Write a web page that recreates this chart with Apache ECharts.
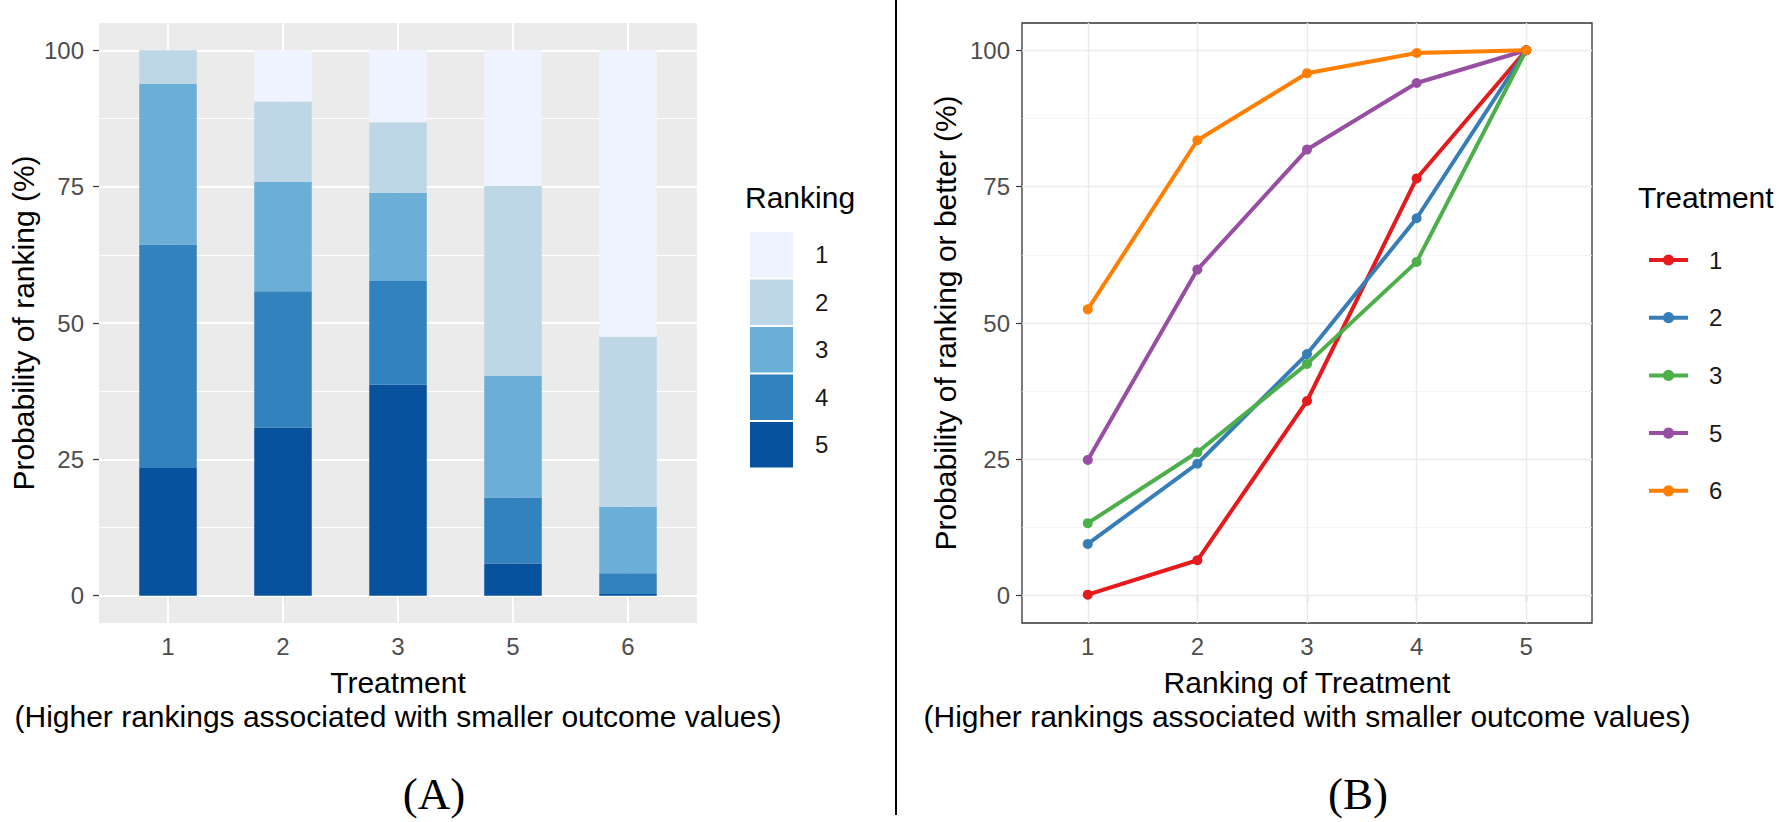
<!DOCTYPE html>
<html>
<head>
<meta charset="utf-8">
<script src="https://cdn.jsdelivr.net/npm/echarts@6/dist/echarts.min.js"></script>
<style>
html,body{margin:0;padding:0;background:#fff;}
#chart{width:1784px;height:822px;}
</style>
</head>
<body>
<div id="chart"></div>
<script>
var treatments = ['1', '2', '3', '5', '6'];
var rankings = ['1', '2', '3', '4', '5'];
var rankColors = ['#EFF3FF', '#BDD7E7', '#6BAED6', '#3182BD', '#08519C'];

// panel A : probability (%) of each ranking, per treatment
var pRank1 = [0.0, 9.4, 13.2, 24.9, 52.5];
var pRank2 = [6.2, 14.7, 12.9, 34.8, 31.2];
var pRank3 = [29.4, 20.1, 16.2, 22.3, 12.2];
var pRank4 = [41.0, 25.0, 19.0, 12.1, 3.8];
var pRank5 = [23.4, 30.8, 38.7, 5.9, 0.3];
var pRanks = [pRank1, pRank2, pRank3, pRank4, pRank5];

// panel B : probability (%) of ranking or better
var rankOfTreatment = ['1', '2', '3', '4', '5'];
var cumT1 = [0.2, 6.5, 35.7, 76.5, 100];
var cumT2 = [9.5, 24.2, 44.3, 69.2, 100];
var cumT3 = [13.3, 26.3, 42.5, 61.2, 100];
var cumT5 = [24.9, 59.8, 81.8, 94.0, 100];
var cumT6 = [52.5, 83.5, 95.8, 99.5, 100];
var cums = [cumT1, cumT2, cumT3, cumT5, cumT6];
var lineColors = ['#E41A1C', '#377EB8', '#4DAF4A', '#984EA3', '#FF7F00'];

var xPos = [1, 2, 3, 4, 5];
var yTicks = [0, 25, 50, 75, 100];
var yMinor = [12.5, 37.5, 62.5, 87.5];

var FONT = 'Liberation Sans, Arial, sans-serif';
var SERIF = 'Liberation Serif, Times New Roman, serif';

function gridLines(major, minor, majW, minW) {
	var d = [];
	yTicks.forEach(function(v){ d.push({yAxis: v, lineStyle: {color: major, width: majW, type: 'solid'}}); });
	yMinor.forEach(function(v){ d.push({yAxis: v, lineStyle: {color: minor, width: minW, type: 'solid'}}); });
	xPos.forEach(function(v){ d.push({xAxis: v, lineStyle: {color: major, width: majW, type: 'solid'}}); });
	return d;
}

var series = [];
series.push({
	type: 'line', xAxisIndex: 0, yAxisIndex: 0, data: [], z: 1, silent: true,
	markLine: {z: 1, silent: true, symbol: ['none', 'none'], label: {show: false}, animation: false,
		data: gridLines('#FFFFFF', '#FFFFFF', 2, 1)}
});
series.push({
	type: 'line', xAxisIndex: 1, yAxisIndex: 1, data: [], z: 1, silent: true,
	markLine: {z: 1, silent: true, symbol: ['none', 'none'], label: {show: false}, animation: false,
		data: gridLines('#EBEBEB', '#F3F3F3', 1.4, 0.8)}
});

// stacked bars (rank 5 at the bottom), on an inner category grid of panel A
for (var k = 4; k >= 0; k--) {
	series.push({
		name: 'Rank ' + rankings[k],
		type: 'bar', stack: 'rank', xAxisIndex: 2, yAxisIndex: 2,
		barWidth: '50%', z: 3,
		itemStyle: {color: rankColors[k]},
		data: pRanks[k]
	});
}

for (var j = 0; j < treatments.length; j++) {
	series.push({
		name: 'Treatment ' + treatments[j],
		type: 'line', xAxisIndex: 1, yAxisIndex: 1, z: 3,
		symbol: 'circle', symbolSize: 10,
		lineStyle: {width: 4, color: lineColors[j]},
		itemStyle: {color: lineColors[j]},
		data: cums[j].map(function(v, i){ return [xPos[i], v]; })
	});
}

var tickStyle = {show: true, length: 6, lineStyle: {color: '#333333', width: 1.2}};
var labelStyle = {fontSize: 24, color: '#4D4D4D', fontFamily: FONT};
var nameStyle = {fontSize: 30, color: '#000000', fontFamily: FONT, lineHeight: 34};

var chart = echarts.init(document.getElementById('chart'), null, {renderer: 'svg'});
var option = {
	animation: false,
	backgroundColor: '#FFFFFF',
	grid: [
		{left: 99, top: 23, width: 598, height: 600, show: true, backgroundColor: '#EBEBEB', borderWidth: 0},
		{left: 1022, top: 23, width: 570, height: 600, show: true, backgroundColor: '#FFFFFF', borderColor: '#333333', borderWidth: 1.3},
		{left: 110.5, top: 23, width: 575, height: 600}
	],
	xAxis: [
		{type: 'value', gridIndex: 0, min: 0.4, max: 5.6,
			axisLine: {show: false}, splitLine: {show: false},
			axisTick: Object.assign({customValues: xPos}, tickStyle),
			axisLabel: Object.assign({customValues: xPos, margin: 11, formatter: function(v){ return treatments[Math.round(v) - 1]; }}, labelStyle),
			name: 'Treatment\n(Higher rankings associated with smaller outcome values)',
			nameLocation: 'middle', nameGap: 42, nameTextStyle: nameStyle},
		{type: 'value', gridIndex: 1, min: 0.4, max: 5.6,
			axisLine: {show: false}, splitLine: {show: false},
			axisTick: Object.assign({customValues: xPos}, tickStyle),
			axisLabel: Object.assign({customValues: xPos, margin: 11, formatter: function(v){ return rankOfTreatment[Math.round(v) - 1]; }}, labelStyle),
			name: 'Ranking of Treatment\n(Higher rankings associated with smaller outcome values)',
			nameLocation: 'middle', nameGap: 42, nameTextStyle: nameStyle},
		{type: 'category', gridIndex: 2, data: treatments, show: false}
	],
	yAxis: [
		{type: 'value', gridIndex: 0, min: -5, max: 105,
			axisLine: {show: false}, splitLine: {show: false},
			axisTick: Object.assign({customValues: yTicks}, tickStyle),
			axisLabel: Object.assign({customValues: yTicks, margin: 15}, labelStyle),
			name: 'Probability of ranking (%)', nameLocation: 'middle', nameRotate: 90, nameGap: 57,
			nameTextStyle: nameStyle},
		{type: 'value', gridIndex: 1, min: -5, max: 105,
			axisLine: {show: false}, splitLine: {show: false},
			axisTick: Object.assign({customValues: yTicks}, tickStyle),
			axisLabel: Object.assign({customValues: yTicks, margin: 12}, labelStyle),
			name: 'Probability of ranking or better (%)', nameLocation: 'middle', nameRotate: 90, nameGap: 60,
			nameTextStyle: nameStyle},
		{type: 'value', gridIndex: 2, min: -5, max: 105, show: false, splitLine: {show: false}}
	],
	legend: [
		{data: rankings.map(function(r){ return 'Rank ' + r; }), left: 745, top: 227, orient: 'vertical',
			icon: 'rect', itemWidth: 43, itemHeight: 45.5, itemGap: 2, selectedMode: false,
			formatter: function(n){ return n.replace('Rank ', ''); },
			textStyle: {fontSize: 24, color: '#1A1A1A', fontFamily: FONT, padding: [0, 0, 0, 17]}},
		{data: treatments.map(function(t){ return 'Treatment ' + t; }), left: 1642, top: 243, orient: 'vertical',
			itemWidth: 39, itemHeight: 14, itemGap: 33.7, selectedMode: false,
			lineStyle: {width: 4},
			formatter: function(n){ return n.replace('Treatment ', ''); },
			textStyle: {fontSize: 24, color: '#1A1A1A', fontFamily: FONT, padding: [0, 0, 0, 16]}}
	],
	graphic: [
		{type: 'line', shape: {x1: 896, y1: 0, x2: 896, y2: 815}, style: {stroke: '#000', lineWidth: 2}},
		{type: 'text', x: 745, y: 197, style: {text: 'Ranking', font: '30px ' + FONT, fill: '#000', textVerticalAlign: 'middle'}},
		{type: 'text', x: 1638, y: 197, style: {text: 'Treatment', font: '30px ' + FONT, fill: '#000', textVerticalAlign: 'middle'}},
		{type: 'text', x: 434, y: 794, style: {text: '(A)', font: '45px ' + SERIF, fill: '#000', textAlign: 'center', textVerticalAlign: 'middle'}},
		{type: 'text', x: 1358, y: 794, style: {text: '(B)', font: '45px ' + SERIF, fill: '#000', textAlign: 'center', textVerticalAlign: 'middle'}}
	],
	series: series
};
chart.setOption(option);
</script>
</body>
</html>
